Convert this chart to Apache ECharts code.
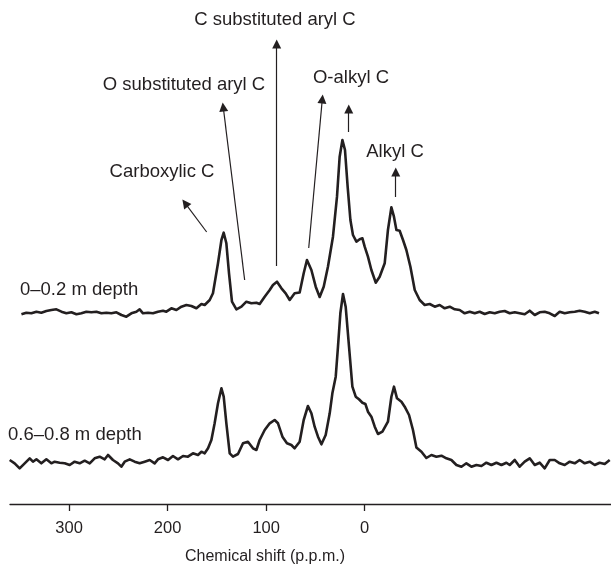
<!DOCTYPE html>
<html><head><meta charset="utf-8">
<script src="https://cdn.jsdelivr.net/npm/echarts@6/dist/echarts.min.js"></script>
<style>html,body{margin:0;padding:0;background:#fff}#c{width:611px;height:565px}</style>
</head><body><div id="c"></div>
<script>
// Chemical shift (p.p.m., as labelled on the axis) and intensity (arbitrary units, spectra stacked)
const topShift = [348.4,343.4,338.3,333.2,328.2,323.1,318.0,312.9,307.8,302.8,297.7,292.6,287.5,282.5,277.4,272.3,267.2,262.2,257.1,252.0,246.9,241.9,236.8,231.7,228.4,225.0,219.9,214.9,209.8,204.7,201.3,196.2,191.1,186.0,181.0,175.9,170.8,165.7,162.4,157.3,154.0,148.9,145.4,143.1,140.4,137.7,134.7,130.2,125.1,120.1,115.0,109.9,106.6,101.5,96.4,93.1,89.0,84.5,80.2,76.1,71.1,66.0,61.9,58.6,54.1,49.7,45.7,41.6,37.3,32.2,28.1,25.4,22.6,20.0,17.3,14.5,11.9,8.4,5.1,2.3,0,-3.3,-6.8,-11.2,-15.2,-20.3,-23.6,-27.1,-29.7,-32.2,-35.5,-38.9,-42.3,-46.4,-50.8,-55.8,-60.9,-66.0,-71.1,-76.1,-81.2,-86.3,-91.4,-96.4,-101.5,-106.6,-111.7,-116.7,-121.8,-126.9,-132.0,-137.0,-142.1,-147.2,-152.3,-157.3,-162.4,-167.5,-172.6,-177.6,-182.7,-187.8,-192.9,-197.9,-203.0,-208.1,-213.2,-218.2,-223.3,-228.4,-233.5,-237.8];
const topIntensity = [189.7,191.3,190.7,192.3,191.3,193,194,194.7,192.3,190.7,191.7,189.7,190.7,192.3,191.7,192.3,190.7,191.3,190.7,191.7,189,187.3,190.7,192.3,194.7,190.7,191.3,190.7,192.3,193.3,192.3,195.7,194,197.3,199,198,195.7,200,199,204,210.7,240.7,264,271.3,260.7,230.7,202.3,194.7,197.3,202.3,200.7,201.3,200,207.3,214,219,222.3,215.7,210.7,204,210.7,211.5,230.7,244,234,217.3,207,217.3,237.3,267.3,307.3,347.3,364,354,317.3,284,269,262.3,264.7,265.7,257.3,247.3,234,221.3,227.3,240.7,274,296.7,287.3,274,273.3,264,254,237.3,214,204,199,200,197.3,199,195.7,197.3,194.7,194,190.7,192.3,190.7,192.3,190,191.7,190.7,192.3,193,190.7,191.7,190.7,189.7,193.3,189,191.7,192.3,190.7,188,192.3,190.7,191.7,192.3,193.3,192.3,190.7,192.3,190.7];
const bottomShift = [360.3,355.3,350.2,345.1,340.0,336.7,333.2,328.2,323.1,318.0,314.7,309.6,304.5,299.4,294.4,289.3,284.2,279.1,274.1,269.0,263.9,260.5,255.5,250.4,247.0,243.6,238.5,233.5,228.4,223.3,218.2,213.2,209.8,204.7,199.6,194.6,189.5,184.4,179.4,174.3,169.2,165.7,162.4,159.0,155.6,152.3,148.9,145.4,143.1,140.4,137.0,133.7,128.6,123.5,118.5,113.4,109.9,106.6,101.5,96.4,91.4,88.0,83.5,78.9,74.4,71.1,66.0,61.9,57.6,54.1,50.8,47.4,43.9,39.6,35.5,32.8,29.4,27.1,24.7,22.0,19.3,15.9,12.5,9.1,5.8,2.3,-0.7,-3.3,-6.8,-10.2,-13.5,-18.0,-23.6,-27.1,-29.7,-32.8,-37.3,-40.6,-45.0,-49.0,-52.5,-57.6,-62.6,-67.7,-72.8,-77.9,-82.9,-88.0,-93.1,-98.2,-103.2,-108.3,-113.4,-118.5,-123.5,-128.6,-133.7,-138.8,-143.8,-147.2,-152.3,-157.3,-162.4,-167.5,-172.6,-177.6,-182.7,-187.8,-192.9,-197.9,-203.0,-208.1,-213.2,-218.2,-223.3,-228.4,-233.5,-238.5,-243.6,-248.7];
const bottomIntensity = [44,40.7,35.7,40.7,45.7,42.3,44.7,40.7,44.7,40.7,42.3,41.3,40.7,39,42.3,40.7,43.3,40.7,45.7,47.3,44.7,49,44,40.7,37.3,42.3,44.7,42.3,40.7,42.3,44,40.7,44.7,46.7,44,48,44.7,48,47.3,50.7,49,52.3,50.7,55.7,64,80.7,100.7,115.7,107.3,80.7,50.7,47.3,50,60.7,62.3,55.7,54,64,74,80.7,84,80.7,67.3,60.7,59,55.7,62.3,84,98,90.7,77.3,67.3,59.7,69,90.7,110.7,127.3,157.3,190.7,210,197.3,157.3,117.3,107.3,104.7,101.3,100,92.3,87.3,77.3,70,72.3,82.3,107.3,117.3,105.7,102.3,97.3,89,74,56.5,52.3,46,49,47.3,48.3,45.7,44,39,37.3,40.7,37.3,39,38,41.3,39,41.3,39,41.3,39,44,37.3,42.3,45.7,39,41.3,35.7,44,44,40.7,39,42.3,40.7,44,40.7,42.3,39,41.3,40,44];
const tickValues = [0, 100, 200, 300];
const seriesNames = ['0–0.2 m depth', '0.6–0.8 m depth'];
const axisTitle = 'Chemical shift (p.p.m.)';
// annotation arrows: [shift, intensity] from -> to
const arrowFrom = [[160.4,272],[121.8,224],[89.3,238],[56.8,256],[16.2,372],[-31.5,307]];
const arrowTo   = [[182.3,300.8],[143.6,397],[89.3,460],[43.0,405],[16.2,395],[-31.5,332]];
const annotationLabels = ['Carboxylic C','O substituted aryl C','C substituted aryl C','O-alkyl C','Alkyl C'];

const INK = '#231f20';
const FONT = '"Liberation Sans", Arial, Helvetica, sans-serif';
const zip = (xs, ys) => xs.map((x, i) => [x, ys[i]]);

const chart = echarts.init(document.getElementById('c'), null, {renderer: 'canvas'});

const labelPos = [[162,172],[184,85],[275,20],[351,78],[395,152]];
const graphics = annotationLabels.map((t, i) => ({
  type: 'text', x: labelPos[i][0], y: labelPos[i][1], silent: true,
  style: {text: t, font: '18.5px ' + FONT, fill: INK, align: 'center', verticalAlign: 'middle'}
}));
graphics.push({type: 'text', x: 20, y: 290, silent: true,
  style: {text: seriesNames[0], font: '18.5px ' + FONT, fill: INK, align: 'left', verticalAlign: 'middle'}});
graphics.push({type: 'text', x: 8, y: 435, silent: true,
  style: {text: seriesNames[1], font: '18.5px ' + FONT, fill: INK, align: 'left', verticalAlign: 'middle'}});
graphics.push({type: 'text', x: 265, y: 557, silent: true,
  style: {text: axisTitle, font: '16px ' + FONT, fill: INK, align: 'center', verticalAlign: 'middle'}});

chart.setOption({
  animation: false,
  backgroundColor: '#fff',
  grid: {left: 10, right: 0, top: 0, bottom: 61, containLabel: false},
  xAxis: {
    type: 'value', inverse: true, min: -250, max: 360,
    axisLine: {show: true, onZero: false, lineStyle: {color: INK, width: 1.3}},
    axisTick: {show: true, customValues: tickValues, length: 7, inside: false, lineStyle: {color: INK, width: 1.3}},
    axisLabel: {show: true, customValues: tickValues, margin: 16, fontSize: 16.5, fontFamily: FONT, color: INK},
    splitLine: {show: false}
  },
  yAxis: {type: 'value', min: 0, max: 504, show: false, splitLine: {show: false}},
  graphic: graphics,
  series: [
    {
      name: seriesNames[0], type: 'line', data: zip(topShift, topIntensity),
      showSymbol: false, symbol: 'none', silent: true,
      lineStyle: {color: INK, width: 2.6, join: 'round'},
      markLine: {
        silent: true, symbol: ['none', 'triangle'], symbolSize: 9,
        label: {show: false},
        emphasis: {disabled: true},
        lineStyle: {color: INK, width: 1.2, type: 'solid'},
        itemStyle: {color: INK},
        data: arrowFrom.map((f, i) => [
          {coord: f, symbol: 'none'},
          {coord: arrowTo[i], symbol: 'triangle', symbolSize: 9}
        ])
      }
    },
    {
      name: seriesNames[1], type: 'line', data: zip(bottomShift, bottomIntensity),
      showSymbol: false, symbol: 'none', silent: true,
      lineStyle: {color: INK, width: 2.6, join: 'round'}
    }
  ]
});
</script></body></html>
